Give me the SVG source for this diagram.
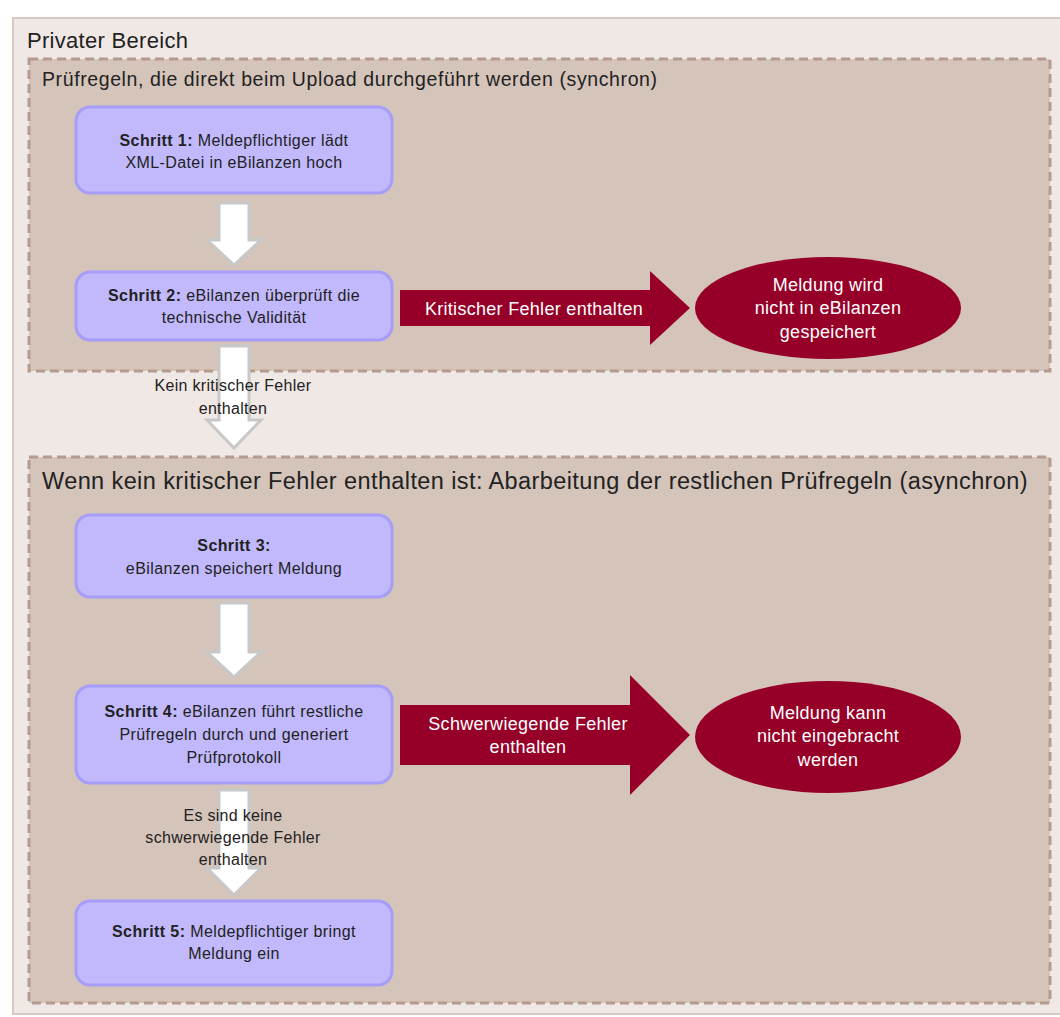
<svg xmlns="http://www.w3.org/2000/svg" width="1060" height="1017" viewBox="0 0 1060 1017">
<style>
text{font-family:"Liberation Sans",Arial,sans-serif;}
.step{fill:#c1b9fc;stroke:#a69dfa;stroke-width:3;}
.st{font-size:16px;letter-spacing:0.4px;fill:#222;text-anchor:middle;}
.b{font-weight:bold;}
.lane{fill:#d5c4ba;stroke:#b59b8f;stroke-width:3;stroke-dasharray:9 5;}
.red{fill:#960028;}
.wt{fill:#fff;font-size:18px;letter-spacing:0.3px;text-anchor:middle;}
.wa{fill:#fff;stroke:#c8c8c8;stroke-width:3;}
.lbl{font-size:16px;letter-spacing:0.3px;fill:#222;text-anchor:middle;}
</style>
<rect width="1060" height="1017" fill="#fff"/>
<g id="privater-bereich">
<rect x="13" y="18" width="1060" height="996" fill="#f0e8e5" stroke="#d6c9c3" stroke-width="2"/>
<text x="27" y="48" font-size="22" letter-spacing="0.3" fill="#222">Privater Bereich</text>
</g>
<g id="lane-synchron">
<rect class="lane" x="29" y="59" width="1021" height="312"/>
<text x="42" y="86" font-size="19.5" letter-spacing="0.6" fill="#222">Prüfregeln, die direkt beim Upload durchgeführt werden (synchron)</text>
</g>
<g id="lane-asynchron">
<rect class="lane" x="29" y="457" width="1021" height="546"/>
<text x="42" y="489" font-size="23.5" letter-spacing="0.4" fill="#222">Wenn kein kritischer Fehler enthalten ist: Abarbeitung der restlichen Prüfregeln (asynchron)</text>
</g>
<g id="connectors">
<polygon class="wa" points="219,203 249,203 249,240 261,240 234,265 207,240 219,240"/>
<polygon class="wa" points="219,346 249,346 249,420 261,420 234,448 207,420 219,420"/>
<polygon class="wa" points="219,603 249,603 249,652 261,652 234,677 207,652 219,652"/>
<polygon class="wa" points="219,790 249,790 249,868 261,868 234,895 207,868 219,868"/>
<polygon class="red" points="400,290 650,290 650,271 690,308 650,345 650,326 400,326"/>
<text class="wt" x="534" y="315">Kritischer Fehler enthalten</text>
<polygon class="red" points="400,705 630,705 630,675 690,735 630,795 630,765 400,765"/>
<text class="wt" x="528" y="730">Schwerwiegende Fehler</text>
<text class="wt" x="528" y="753">enthalten</text>
<text class="lbl" x="233" y="391">Kein kritischer  Fehler</text>
<text class="lbl" x="233" y="414">enthalten</text>
<text class="lbl" x="233" y="821">Es sind keine</text>
<text class="lbl" x="233" y="843">schwerwiegende  Fehler</text>
<text class="lbl" x="233" y="865">enthalten</text>
</g>
<g id="schritt1">
<rect class="step" x="76" y="107" width="316" height="86" rx="14"/>
<text class="st" x="234" y="146"><tspan class="b">Schritt 1:</tspan> Meldepflichtiger  lädt</text>
<text class="st" x="234" y="168">XML-Datei in eBilanzen hoch</text>
</g>
<g id="schritt2">
<rect class="step" x="76" y="272" width="316" height="68" rx="14"/>
<text class="st" x="234" y="301"><tspan class="b">Schritt 2:</tspan> eBilanzen überprüft die</text>
<text class="st" x="234" y="323">technische Validität</text>
</g>
<g id="meldung-nicht-gespeichert">
<ellipse class="red" cx="828" cy="308" rx="133" ry="51"/>
<text class="wt" x="828" y="291">Meldung wird</text>
<text class="wt" x="828" y="314">nicht in eBilanzen</text>
<text class="wt" x="828" y="338">gespeichert</text>
</g>
<g id="schritt3">
<rect class="step" x="76" y="515" width="316" height="82" rx="14"/>
<text class="st b" x="234" y="551">Schritt 3:</text>
<text class="st" x="234" y="574">eBilanzen  speichert Meldung</text>
</g>
<g id="schritt4">
<rect class="step" x="76" y="686" width="316" height="97" rx="14"/>
<text class="st" x="234" y="717"><tspan class="b">Schritt 4:</tspan> eBilanzen  führt restliche</text>
<text class="st" x="234" y="740">Prüfregeln  durch und generiert</text>
<text class="st" x="234" y="763">Prüfprotokoll</text>
</g>
<g id="meldung-nicht-eingebracht">
<ellipse class="red" cx="828" cy="737" rx="133" ry="56"/>
<text class="wt" x="828" y="719">Meldung kann</text>
<text class="wt" x="828" y="742">nicht eingebracht</text>
<text class="wt" x="828" y="766">werden</text>
</g>
<g id="schritt5">
<rect class="step" x="76" y="901" width="316" height="84" rx="14"/>
<text class="st" x="234" y="937"><tspan class="b">Schritt 5:</tspan> Meldepflichtiger  bringt</text>
<text class="st" x="234" y="959">Meldung ein</text>
</g>
</svg>
